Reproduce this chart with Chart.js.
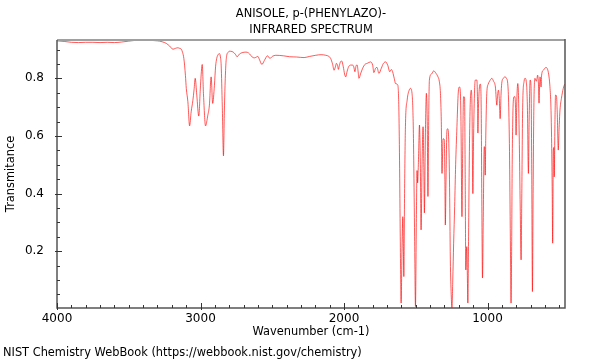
<!DOCTYPE html>
<html>
<head>
<meta charset="utf-8">
<script src="https://cdn.jsdelivr.net/npm/chart.js@4.4.1/dist/chart.umd.min.js"></script>
<style>
  html, body { margin: 0; padding: 0; background: #fff; }
  #wrap { width: 600px; height: 360px; }
</style>
</head>
<body>
<div id="wrap"><canvas id="c" width="600" height="360"></canvas></div>
<script>
const titleLines = ["ANISOLE, p-(PHENYLAZO)-", "INFRARED SPECTRUM"];
const footerText = "NIST Chemistry WebBook (https://webbook.nist.gov/chemistry)";
const xTitle = "Wavenumber (cm-1)";
const yTitle = "Transmitance";
const xTickValues = [4000, 3000, 2000, 1000];
const yTickValues = [0.2, 0.4, 0.6, 0.8];

const wavenumbers = [
4000,3950,3900,3850,3800,3750,3700,3650,3600,3550,3500,3450,3400,3350,3300,3285,3250,3238,3215,3192,
3175,3158,3145,3134,3125,3116,3105,3099,3088,3076,3065,3053,3045,3037,3026,3012,3000,2988,2979,2965,
2949,2938,2926,2915,2903,2895,2887,2875,2868,2860,2856,2848,2840,2834,2829,2823,2817,2808,2799,2780,
2765,2755,2745,2729,2710,2683,2665,2650,2640,2625,2610,2600,2590,2572,2555,2533,2516,2500,2475,2420,
2380,2330,2278,2240,2197,2160,2127,2105,2093,2080,2069,2060,2053,2045,2039,2032,2024,2016,2005,1996,
1988,1978,1968,1953,1940,1932,1924,1915,1908,1902,1896,1885,1870,1855,1838,1815,1800,1792,1780,1770,
1757,1740,1725,1710,1695,1681,1672,1665,1650,1641,1625,1618,1613,1608,1602,1596,1590,1586,1583,1578,
1572,1560,1545,1537,1526,1518,1514,1508,1502,1496,1491,1487,1482,1474,1468,1463,1456,1449,1444,1440,
1433,1426,1420,1415,1410,1405,1390,1375,1360,1345,1336,1328,1322,1317,1313,1310,1305,1301,1297,1294,
1289,1283,1278,1271,1265,1259,1253,1248,1242,1236,1229,1222,1213,1205,1201,1196,1190,1185,1178,1173,
1167,1160,1156,1151,1147,1144,1140,1137,1132,1127,1121,1113,1108,1102,1097,1090,1085,1074,1069,1067,
1063,1056,1050,1044,1040,1035,1030,1023,1020,1016,1012,1005,995,988,978,970,958,945,935,930,
924,918,912,906,901,890,877,868,859,852,846,840,836,832,828,822,815,809,805,801,
796,789,784,779,772,766,761,755,745,738,730,722,715,710,703,697,692,687,683,677,
669,660,655,651,645,641,637,634,630,627,623,611,600,593,585,578,570,565,558,553,
549,546,543,542,538,535,530,526,520,514,507,500,495,485,472,462
];
const transmittance = [
0.930,0.928,0.925,0.924,0.925,0.925,0.924,0.925,0.924,0.926,0.929,0.932,0.933,0.932,0.930,0.929,0.924,0.921,0.912,0.901,
0.904,0.906,0.904,0.901,0.890,0.869,0.810,0.765,0.719,0.635,0.684,0.724,0.760,0.800,0.742,0.669,0.776,0.848,0.742,0.635,
0.672,0.707,0.805,0.713,0.776,0.840,0.869,0.884,0.886,0.870,0.846,0.700,0.531,0.680,0.776,0.850,0.880,0.890,0.894,0.893,
0.888,0.882,0.875,0.884,0.889,0.891,0.888,0.880,0.874,0.871,0.874,0.876,0.866,0.848,0.862,0.878,0.869,0.876,0.880,0.878,
0.875,0.874,0.872,0.876,0.880,0.882,0.880,0.876,0.869,0.850,0.828,0.840,0.852,0.845,0.831,0.845,0.858,0.860,0.840,0.815,
0.805,0.825,0.840,0.846,0.846,0.840,0.823,0.845,0.846,0.825,0.800,0.815,0.835,0.848,0.852,0.857,0.845,0.820,0.835,0.838,
0.817,0.835,0.852,0.857,0.845,0.823,0.830,0.828,0.800,0.782,0.776,0.700,0.516,0.250,0.020,0.200,0.320,0.200,0.112,0.400,
0.632,0.724,0.760,0.765,0.748,0.650,0.516,0.250,0.008,0.300,0.480,0.437,0.500,0.638,0.500,0.274,0.500,0.632,0.500,0.333,
0.600,0.748,0.650,0.390,0.650,0.794,0.815,0.826,0.818,0.805,0.790,0.748,0.650,0.470,0.540,0.590,0.590,0.586,0.450,0.291,
0.450,0.618,0.625,0.597,0.450,0.170,0.050,0.003,0.100,0.228,0.355,0.500,0.632,0.740,0.765,0.770,0.759,0.650,0.320,0.550,
0.736,0.735,0.500,0.135,0.200,0.216,0.100,0.020,0.250,0.516,0.700,0.759,0.700,0.400,0.600,0.760,0.794,0.794,0.700,0.610,
0.700,0.771,0.780,0.700,0.400,0.107,0.300,0.563,0.560,0.464,0.600,0.748,0.780,0.788,0.796,0.800,0.790,0.770,0.707,0.740,
0.759,0.730,0.660,0.740,0.782,0.800,0.805,0.800,0.782,0.700,0.516,0.200,0.020,0.200,0.500,0.700,0.736,0.736,0.700,0.603,
0.720,0.782,0.740,0.600,0.350,0.170,0.400,0.700,0.790,0.800,0.790,0.700,0.470,0.650,0.794,0.775,0.500,0.060,0.350,0.700,
0.800,0.790,0.800,0.811,0.780,0.714,0.780,0.805,0.790,0.770,0.811,0.828,0.835,0.838,0.835,0.825,0.800,0.771,0.700,0.574,
0.400,0.228,0.450,0.546,0.560,0.458,0.650,0.742,0.740,0.680,0.551,0.640,0.690,0.730,0.765,0.780
];

const points = wavenumbers.map((w, i) => ({ x: w, y: transmittance[i] }));

const textFont = "11.4px 'DejaVu Sans', sans-serif";
Chart.defaults.font.family = "'DejaVu Sans', sans-serif";
Chart.defaults.font.size = 12;
Chart.defaults.color = "#000";

const decorPlugin = {
  id: "decor",
  afterDraw(chart) {
    const ctx = chart.ctx;
    const ca = chart.chartArea;
    const xs = chart.scales.x, ys = chart.scales.y;
    ctx.save();
    ctx.strokeStyle = "#a0a0a0";
    ctx.lineWidth = 2;
    ctx.beginPath();
    ctx.moveTo(ca.left, ca.top);
    ctx.lineTo(ca.right, ca.top);
    ctx.stroke();
    ctx.strokeStyle = "#555";
    ctx.lineWidth = 1.5;
    ctx.beginPath();
    ctx.moveTo(ca.left, ca.top);
    ctx.lineTo(ca.left, ca.bottom);
    ctx.lineTo(ca.right, ca.bottom);
    ctx.lineTo(ca.right, ca.top - 1);
    ctx.stroke();
    ctx.lineWidth = 1;
    ctx.strokeStyle = "#333";
    ctx.beginPath();
    for (let w = 500; w <= 4000; w += 100) {
      const px = Math.round(xs.getPixelForValue(w)) + 0.5;
      if (px < ca.left - 1 || px > ca.right + 1) continue;
      const major = xTickValues.includes(w);
      ctx.moveTo(px, ca.bottom + (major ? 2 : 0));
      ctx.lineTo(px, ca.bottom - (major ? 5 : 3));
    }
    for (let k = 1; k <= 18; k++) {
      const v = k * 0.05;
      const py = Math.round(ys.getPixelForValue(v)) + 0.5;
      if (py < ca.top || py > ca.bottom) continue;
      const major = yTickValues.some(t => Math.abs(t - v) < 1e-6);
      ctx.moveTo(ca.left - (major ? 2 : 0), py);
      ctx.lineTo(ca.left + (major ? 5 : 3), py);
    }
    ctx.stroke();
    ctx.fillStyle = "#000";
    ctx.font = textFont;
    ctx.textAlign = "center";
    ctx.textBaseline = "middle";
    const cx = (ca.left + ca.right) / 2;
    ctx.fillText(titleLines[0], cx, 14);
    ctx.fillText(titleLines[1], cx, 30);
    ctx.textAlign = "left";
    ctx.fillText(footerText, 3, 353);
    ctx.restore();
  }
};

new Chart(document.getElementById("c"), {
  type: "line",
  data: {
    datasets: [{
      data: points,
      borderColor: "rgba(255,0,0,0.65)",
      borderWidth: 1,
      pointRadius: 0,
      fill: false,
      cubicInterpolationMode: "monotone"
    }]
  },
  options: {
    responsive: false,
    animation: false,
    events: [],
    parsing: false,
    layout: { padding: { top: 40, right: 35, left: 0, bottom: 0 } },
    plugins: { legend: { display: false }, tooltip: { enabled: false }, title: { display: false } },
    scales: {
      x: {
        type: "linear",
        reverse: true,
        min: 460,
        max: 4000,
        grid: { display: false },
        border: { display: false },
        afterBuildTicks: s => { s.ticks = xTickValues.map(v => ({ value: v })); },
        afterFit: s => { s.height = 52; },
        ticks: { padding: -4, maxRotation: 0, autoSkip: false, callback: v => String(v) },
        title: { display: true, text: xTitle, font: { size: 11.4 }, padding: { top: 0, bottom: 21 } }
      },
      y: {
        type: "linear",
        min: 0.003,
        max: 0.933,
        grid: { display: false },
        border: { display: false },
        afterBuildTicks: s => { s.ticks = yTickValues.map(v => ({ value: v })); },
        afterFit: s => { s.width = 57; },
        ticks: { padding: 5, autoSkip: false, callback: v => v.toFixed(1) },
        title: { display: true, text: yTitle, font: { size: 11.4 }, padding: { top: 4, bottom: 0 } }
      }
    }
  },
  plugins: [decorPlugin]
});
</script>
</body>
</html>
